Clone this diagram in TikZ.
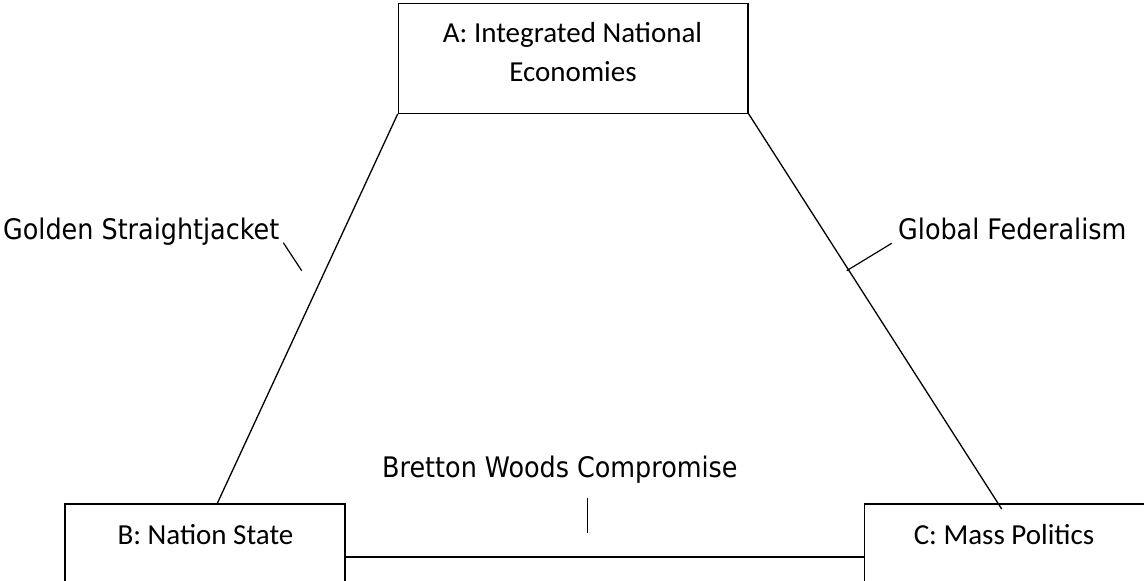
\documentclass[tikz,border=0pt]{standalone}
\usepackage{fontspec}
\newfontfamily\boxfont{Carlito}
\newfontfamily\labfont{DejaVu Sans Condensed}
\begin{document}
\begin{tikzpicture}[x=1pt,y=-1pt,
  boxstyle/.style={draw=black, line width=1.3pt, rectangle, inner sep=0pt, fill=none},
  boxtext/.style={anchor=base, inner sep=0pt, font=\boxfont\fontsize{29}{35}\selectfont},
  labtext/.style={anchor=base west, inner sep=0pt, font=\labfont\fontsize{28.3}{34}\selectfont},
  conn/.style={draw=black, line width=1.3pt},
  lead/.style={draw=black, line width=1.2pt}]
\useasboundingbox (0,0) rectangle (1144,581);
\begin{scope}
\clip (0,0) rectangle (1144,581);
% boxes
\node[boxstyle, minimum width=349.7pt, minimum height=110pt] (boxA) at (573.2,58.3) {};
\node[boxstyle, minimum width=280pt, minimum height=106pt] (boxB) at (205,557) {};
\node[boxstyle, minimum width=282pt, minimum height=106pt] (boxC) at (1005.2,557) {};
% box texts
\node[boxtext] (tA1) at (572.5,42.3) {A: Integrated National};
\node[boxtext] (tA2) at (573,81.7) {Economies};
\node[boxtext] (tB) at (205.5,544) {B: Nation State};
\node[boxtext] (tC) at (1004,544) {C: Mass Politics};
% connectors
\draw[conn] (boxA.south west) -- ([xshift=12.3pt]boxB.north);
\draw[conn] (boxA.south east) -- ([xshift=-3.5pt,yshift=-5.7pt]boxC.north);
\draw[conn] (boxB.east |- 0,557) -- (boxC.west |- 0,557);
% labels
\node[labtext] (lGS) at (3,239) {Golden Straightjacket};
\node[labtext] (lGF) at (898,239) {Global Federalism};
\node[labtext] (lBW) at (382,477) {Bretton Woods Compromise};
% leaders
\coordinate (gsA) at (283.3,242.7);
\coordinate (gsB) at (301.7,270.7);
\coordinate (gfA) at (891.7,243.3);
\coordinate (gfB) at (846.7,270.7);
\coordinate (bwA) at (587.7,497.7);
\coordinate (bwB) at (587.7,533.3);
\draw[lead] (gsA) -- (gsB);
\draw[lead] (gfA) -- (gfB);
\draw[lead] (bwA) -- (bwB);
\end{scope}
\end{tikzpicture}
\end{document}
